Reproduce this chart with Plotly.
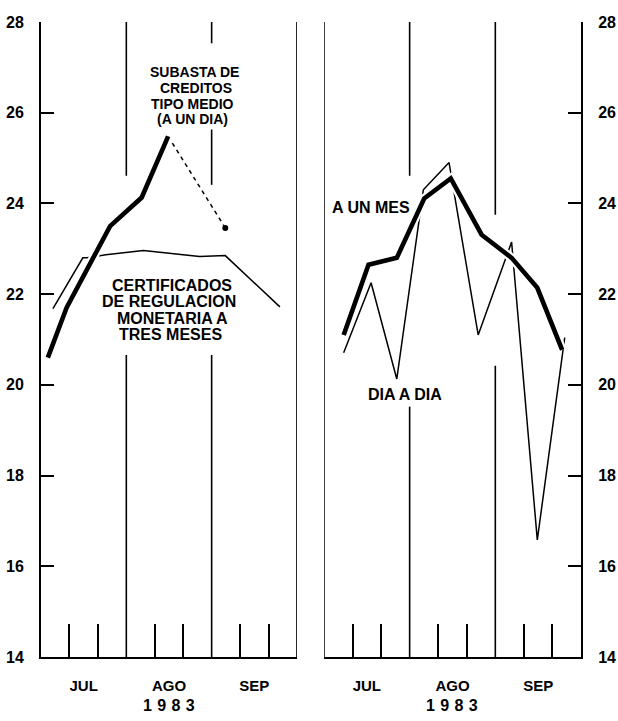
import plotly.graph_objects as go

# ---------------- data (x in months since 1 July 1983) ----------------
MONTH_LABELS = ["JUL", "AGO", "SEP"]
MONTH_CENTERS = [0.5, 1.5, 2.5]
DECADE_TICKS = [m + f for m in (0, 1, 2) for f in (1 / 3, 2 / 3)]
Y_TICKS = [14, 16, 18, 20, 22, 24, 26, 28]
YEAR_LABEL = "1\u20049\u20048\u20043"

# left panel: Subasta de creditos, tipo medio (a un dia)
SUBASTA_X = [0.08, 0.30, 0.81, 1.18, 1.49]
SUBASTA_Y = [20.60, 21.70, 23.50, 24.13, 25.48]
SUBASTA_DASH_X = [1.49, 2.16]
SUBASTA_DASH_Y = [25.48, 23.46]

# left panel: Certificados de regulacion monetaria a tres meses
CERT_X = [0.14, 0.49, 0.54, 0.76, 1.20, 1.48, 1.86, 2.16, 2.80]
CERT_Y = [21.68, 22.80, 22.80, 22.87, 22.96, 22.91, 22.83, 22.85, 21.72]

# right panel: a un mes
MES_X = [0.23, 0.52, 0.85, 1.17, 1.48, 1.84, 2.19, 2.49, 2.78]
MES_Y = [21.10, 22.65, 22.80, 24.11, 24.55, 23.31, 22.80, 22.14, 20.77]

# right panel: dia a dia
DIA_X = [0.23, 0.55, 0.85, 1.16, 1.46, 1.80, 2.19, 2.49, 2.81]
DIA_Y = [20.71, 22.25, 20.13, 24.30, 24.90, 21.10, 23.15, 16.58, 21.04]

# month separator segments: (x, y_top, y_bottom)
LEFT_SEPARATORS = [(1, 28, 24.61), (1, 20.66, 14), (2, 28, 27.53),
                   (2, 25.63, 24.41), (2, 20.66, 14), (3, 28, 14)]
RIGHT_SEPARATORS = [(0, 28, 14), (1, 28, 24.61), (1, 19.52, 14),
                    (2, 28, 23.75), (2, 20.42, 14)]

FONT = "Liberation Sans, Arial, Helvetica, sans-serif"
THIN = 1.5
THICK = 4.6
HALO = 9

fig = go.Figure()

# ----- left panel -----
fig.add_trace(go.Scatter(x=CERT_X, y=CERT_Y, mode="lines", xaxis="x", yaxis="y",
                         line=dict(color="black", width=THIN), hoverinfo="skip"))
fig.add_trace(go.Scatter(x=SUBASTA_DASH_X, y=SUBASTA_DASH_Y, mode="lines", xaxis="x", yaxis="y",
                         line=dict(color="black", width=THIN, dash="4px,4px"), hoverinfo="skip"))
fig.add_trace(go.Scatter(x=SUBASTA_DASH_X[-1:], y=SUBASTA_DASH_Y[-1:], mode="markers",
                         xaxis="x", yaxis="y", marker=dict(color="black", size=6), hoverinfo="skip"))
fig.add_trace(go.Scatter(x=SUBASTA_X, y=SUBASTA_Y, mode="lines", xaxis="x", yaxis="y",
                         line=dict(color="white", width=HALO), hoverinfo="skip"))
fig.add_trace(go.Scatter(x=SUBASTA_X, y=SUBASTA_Y, mode="lines", xaxis="x", yaxis="y",
                         line=dict(color="black", width=THICK), hoverinfo="skip"))

# ----- right panel -----
fig.add_trace(go.Scatter(x=DIA_X, y=DIA_Y, mode="lines", xaxis="x2", yaxis="y2",
                         line=dict(color="black", width=THIN), hoverinfo="skip"))
fig.add_trace(go.Scatter(x=MES_X, y=MES_Y, mode="lines", xaxis="x2", yaxis="y2",
                         line=dict(color="white", width=HALO), hoverinfo="skip"))
fig.add_trace(go.Scatter(x=MES_X, y=MES_Y, mode="lines", xaxis="x2", yaxis="y2",
                         line=dict(color="black", width=THICK), hoverinfo="skip"))

shapes = []
for xref, yref, segs in (("x", "y", LEFT_SEPARATORS), ("x2", "y2", RIGHT_SEPARATORS)):
    for xv, y0, y1 in segs:
        shapes.append(dict(type="line", xref=xref, yref=yref, x0=xv, x1=xv, y0=y0, y1=y1,
                           line=dict(color="black", width=1.6), layer="below"))

xaxis_common = dict(range=[0, 3], showline=True, linecolor="black", linewidth=2,
                    showgrid=False, zeroline=False, fixedrange=True, automargin=False,
                    tickmode="array", tickvals=MONTH_CENTERS, ticktext=MONTH_LABELS,
                    ticks="", ticklabelstandoff=14,
                    tickfont=dict(family=FONT, size=15, color="black", weight="bold"),
                    minor=dict(tickmode="array", tickvals=DECADE_TICKS, ticks="inside",
                               ticklen=33, tickwidth=1.6, tickcolor="black", showgrid=False))
yaxis_common = dict(range=[14, 28], showline=True, linecolor="black", linewidth=2,
                    showgrid=False, zeroline=False, fixedrange=True, automargin=False,
                    tickmode="array", tickvals=Y_TICKS, ticks="inside", ticklen=13,
                    tickwidth=2, tickcolor="black", ticklabelstandoff=12,
                    tickfont=dict(family=FONT, size=16, color="black", weight="bold"))

big_font = dict(family=FONT, size=16, color="black", weight="bold")
annotations = []
for txt, xv, yv in (("SUBASTA DE", 1.80, 26.89), ("CREDITOS", 1.82, 26.55),
                    ("TIPO MEDIO", 1.78, 26.20), ("(A UN DIA)", 1.78, 25.87)):
    annotations.append(dict(text=txt, x=xv, y=yv, xref="x", yref="y", showarrow=False,
                            font=dict(family=FONT, size=14, color="black", weight="bold"),
                            xanchor="center", yanchor="middle"))
for txt, xv, yv in (("CERTIFICADOS", 1.535, 22.19), ("DE REGULACION", 1.50, 21.83),
                    ("MONETARIA A", 1.547, 21.46), ("TRES MESES", 1.523, 21.10)):
    annotations.append(dict(text=txt, x=xv, y=yv, xref="x", yref="y", showarrow=False,
                            font=big_font, xanchor="center", yanchor="middle"))
annotations.append(dict(text="A UN MES", x=0.55, y=23.91, xref="x2", yref="y2",
                        showarrow=False, font=big_font))
annotations.append(dict(text="DIA A DIA", x=0.945, y=19.78, xref="x2", yref="y2",
                        showarrow=False, font=big_font))
for xref in ("x", "x2"):
    annotations.append(dict(text=YEAR_LABEL, x=1.5, y=0, xref=xref, yref="paper",
                            yanchor="middle", yshift=-48, showarrow=False, font=big_font))

fig.update_layout(
    width=618, height=721, autosize=False,
    margin=dict(l=41, r=37, t=22, b=64),
    paper_bgcolor="white", plot_bgcolor="white",
    showlegend=False,
    xaxis=dict(domain=[0, 0.474], anchor="y", **xaxis_common),
    yaxis=dict(anchor="x", side="left", **yaxis_common),
    xaxis2=dict(domain=[0.524, 1], anchor="y2", **xaxis_common),
    yaxis2=dict(anchor="x2", side="right", **yaxis_common),
    shapes=shapes,
    annotations=annotations,
)

fig.write_html("out.html", config={"displayModeBar": False},
               post_script="document.body.style.margin='0';document.body.style.overflow='hidden';")
